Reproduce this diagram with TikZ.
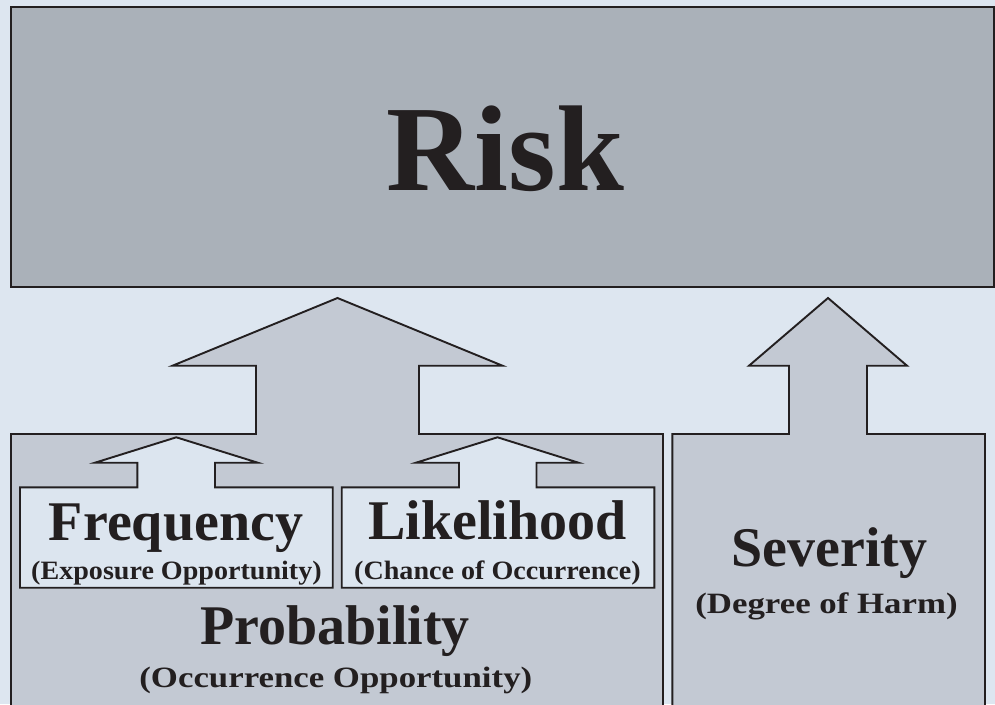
\documentclass[tikz,border=0pt]{standalone}
\usepackage{fontspec}
\setmainfont{Liberation Serif}
\newfontfamily\boxsubfont[FakeStretch=1.06]{Liberation Serif}
\newfontfamily\outersubfont[FakeStretch=1.18]{Liberation Serif}

\definecolor{backdrop}{HTML}{DDE6F0}
\definecolor{riskfill}{HTML}{AAB1B9}
\definecolor{factorfill}{HTML}{C3C9D3}
\definecolor{innerfill}{HTML}{DCE5EF}
\definecolor{inkline}{HTML}{231F20}

\tikzstyle{outline}=[draw=inkline, line width=1.9pt, line join=miter]
\tikzstyle{risk-text}=[anchor=base, inner sep=0pt, text=inkline, font=\fontsize{122}{122}\selectfont\bfseries]
\tikzstyle{factor-text}=[anchor=base, inner sep=0pt, text=inkline, font=\fontsize{56}{56}\selectfont\bfseries]
\tikzstyle{box-sub-text}=[anchor=base, inner sep=0pt, text=inkline, font=\boxsubfont\fontsize{26.5}{26.5}\selectfont\bfseries]
\tikzstyle{outer-sub-text}=[anchor=base, inner sep=0pt, text=inkline, font=\outersubfont\fontsize{29.5}{29.5}\selectfont\bfseries]

\begin{document}
\begin{tikzpicture}[x=1pt, y=-1pt]
      \useasboundingbox (0,0) rectangle (995,704);
      \fill[backdrop] (0,0) rectangle (995,704);
      \clip (0,0) rectangle (995,704);

      % risk box
      \path[outline, line width=2.6pt, fill=riskfill] (11,7) rectangle (994,287);

      % probability with its arrow
      \path[outline, fill=factorfill] (11,712) -- (11,434) -- (256,434) -- (256,365.7)
            -- (172.5,365.7) -- (337.5,298) -- (502.5,365.7) -- (419,365.7)
            -- (419,434) -- (663,434) -- (663,712) -- cycle;

      % severity with its arrow
      \path[outline, fill=factorfill] (672.3,712) -- (672.3,434) -- (789,434) -- (789,365.7)
            -- (749,365.7) -- (828,298) -- (907,365.7) -- (867,365.7)
            -- (867,434) -- (985,434) -- (985,712) -- cycle;

      % frequency with its arrow
      \path[outline, fill=innerfill] (20,587.7) -- (20,487.3) -- (137.3,487.3) -- (137.3,462.7)
            -- (95,462.7) -- (176.3,437.3) -- (257.8,462.7) -- (215,462.7)
            -- (215,487.3) -- (332.7,487.3) -- (332.7,587.7) -- cycle;

      % likelihood with its arrow
      \path[outline, fill=innerfill] (341.7,587.7) -- (341.7,487.3) -- (459,487.3) -- (459,462.7)
            -- (416,462.7) -- (497.5,437.3) -- (578.5,462.7) -- (536.5,462.7)
            -- (536.5,487.3) -- (654.3,487.3) -- (654.3,587.7) -- cycle;

      \node (risk-label) at (505.5,190.7) [risk-text] {Risk};
      \node (frequency-label) at (176,540) [factor-text] {Frequency};
      \node (frequency-note) at (176.5,579.5) [box-sub-text] {(Exposure Opportunity)};
      \node (likelihood-label) at (497.5,539.3) [factor-text] {Likelihood};
      \node (likelihood-note) at (497.5,579.3) [box-sub-text] {(Chance of Occurrence)};
      \node (probability-label) at (335,644) [factor-text] {Probability};
      \node (probability-note) at (335.8,687.7) [outer-sub-text] {(Occurrence Opportunity)};
      \node (severity-label) at (829.5,566.7) [factor-text] {Severity};
      \node (severity-note) at (826.5,613.3) [outer-sub-text] {(Degree of Harm)};
\end{tikzpicture}
\end{document}
